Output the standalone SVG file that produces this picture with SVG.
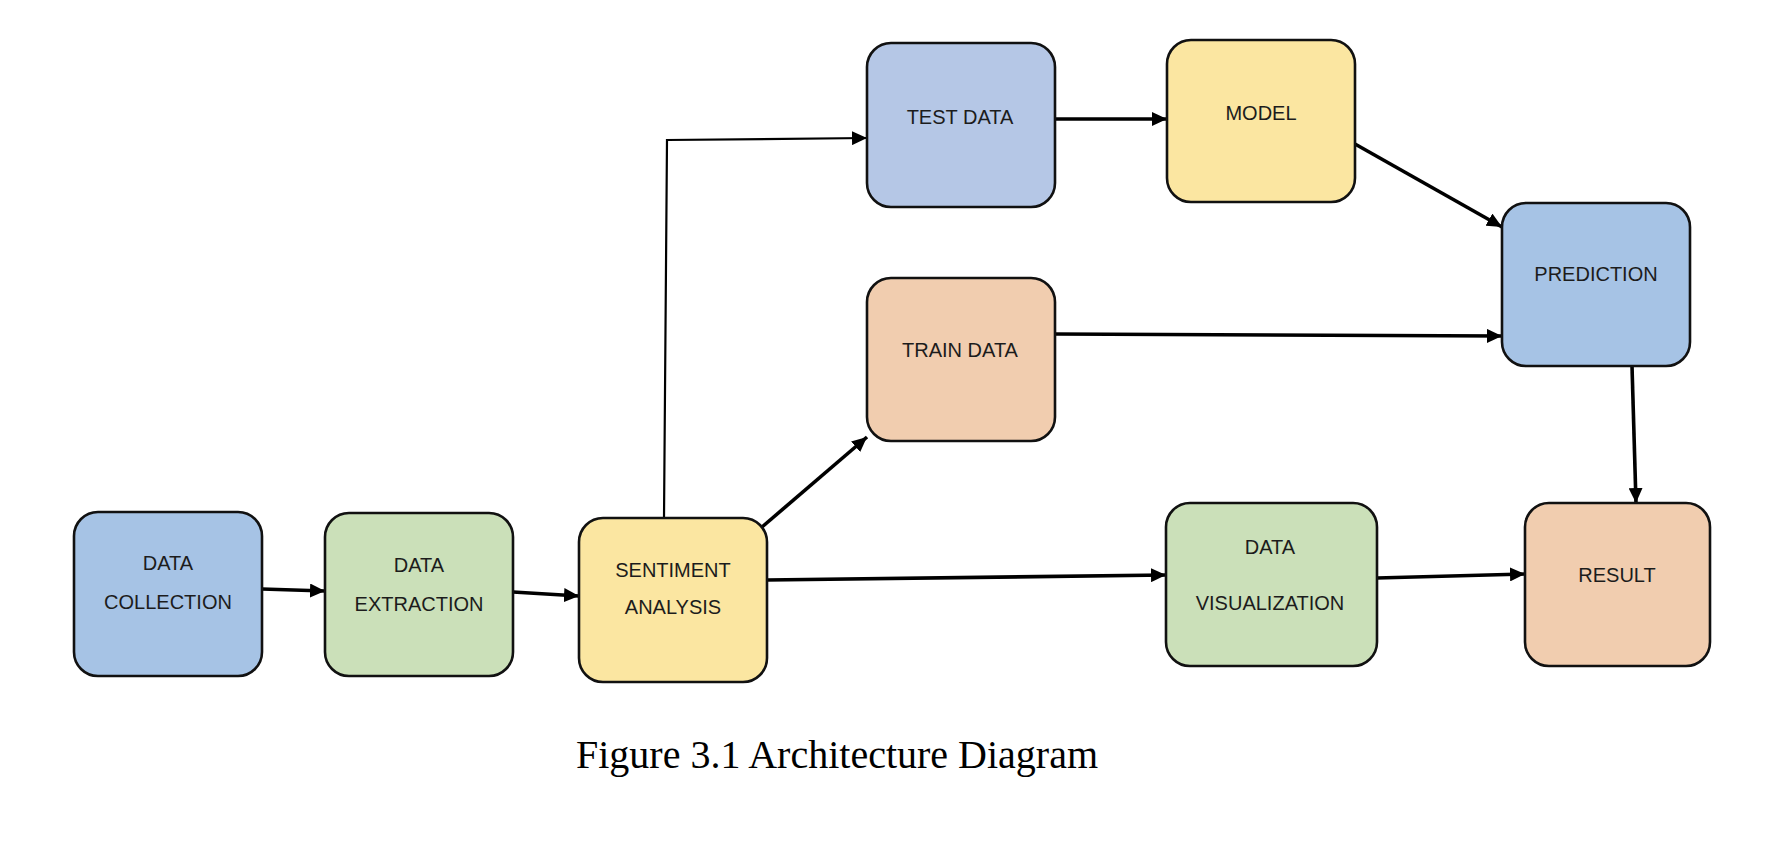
<svg xmlns="http://www.w3.org/2000/svg" width="1776" height="850" viewBox="0 0 1776 850">
<style>
.box{stroke:#111;stroke-width:2.6}
.lbl{font-family:"Liberation Sans",Arial,sans-serif;font-size:20px;fill:#1c1c1c;text-anchor:middle}
.cap{font-family:"Liberation Serif","Times New Roman",serif;font-size:40px;fill:#000;text-anchor:middle}
.ar{fill:none;stroke:#000;stroke-width:3.6;marker-end:url(#ah)}
.thin{fill:none;stroke:#000;stroke-width:2.2;marker-end:url(#ah)}
.blue{fill:#a6c3e5}
.lblue{fill:#b5c7e6}
.green{fill:#cbe0b9}
.yellow{fill:#fbe6a1}
.peach{fill:#f1cdaf}
</style>
<defs>
<marker id="ah" markerUnits="userSpaceOnUse" markerWidth="16" markerHeight="14" refX="15" refY="7" orient="auto">
<path d="M0,0 L15,7 L0,14 Z" fill="#000"/>
</marker>
</defs>
<rect width="1776" height="850" fill="#fff"/>
<g id="connectors">
<line class="ar" x1="262" y1="589" x2="325" y2="591"/>
<line class="ar" x1="513" y1="592" x2="579" y2="596"/>
<polyline class="thin" points="664,518 667,140 867,138"/>
<line class="ar" x1="762" y1="527" x2="867" y2="437"/>
<line class="ar" x1="767" y1="580" x2="1166" y2="575"/>
<line class="ar" x1="1054" y1="119" x2="1167" y2="119"/>
<line class="ar" x1="1355" y1="144" x2="1502" y2="227"/>
<line class="ar" x1="1054" y1="334" x2="1502" y2="336"/>
<line class="ar" x1="1632" y1="366" x2="1636" y2="503"/>
<line class="ar" x1="1377" y1="578" x2="1525" y2="574"/>
</g>
<g id="data-collection">
<rect class="box blue" x="74" y="512" width="188" height="164" rx="24"/>
<text class="lbl" x="168" y="570">DATA</text>
<text class="lbl" x="168" y="609">COLLECTION</text>
</g>
<g id="data-extraction">
<rect class="box green" x="325" y="513" width="188" height="163" rx="24"/>
<text class="lbl" x="419" y="572">DATA</text>
<text class="lbl" x="419" y="611">EXTRACTION</text>
</g>
<g id="sentiment-analysis">
<rect class="box yellow" x="579" y="518" width="188" height="164" rx="24"/>
<text class="lbl" x="673" y="577">SENTIMENT</text>
<text class="lbl" x="673" y="614">ANALYSIS</text>
</g>
<g id="test-data">
<rect class="box lblue" x="867" y="43" width="188" height="164" rx="24"/>
<text class="lbl" x="960" y="124">TEST DATA</text>
</g>
<g id="model">
<rect class="box yellow" x="1167" y="40" width="188" height="162" rx="24"/>
<text class="lbl" x="1261" y="120">MODEL</text>
</g>
<g id="train-data">
<rect class="box peach" x="867" y="278" width="188" height="163" rx="24"/>
<text class="lbl" x="960" y="357">TRAIN DATA</text>
</g>
<g id="prediction">
<rect class="box blue" x="1502" y="203" width="188" height="163" rx="24"/>
<text class="lbl" x="1596" y="281">PREDICTION</text>
</g>
<g id="data-visualization">
<rect class="box green" x="1166" y="503" width="211" height="163" rx="24"/>
<text class="lbl" x="1270" y="554">DATA</text>
<text class="lbl" x="1270" y="610">VISUALIZATION</text>
</g>
<g id="result">
<rect class="box peach" x="1525" y="503" width="185" height="163" rx="24"/>
<text class="lbl" x="1617" y="582">RESULT</text>
</g>
<text class="cap" x="837" y="768">Figure 3.1 Architecture Diagram</text>
</svg>
